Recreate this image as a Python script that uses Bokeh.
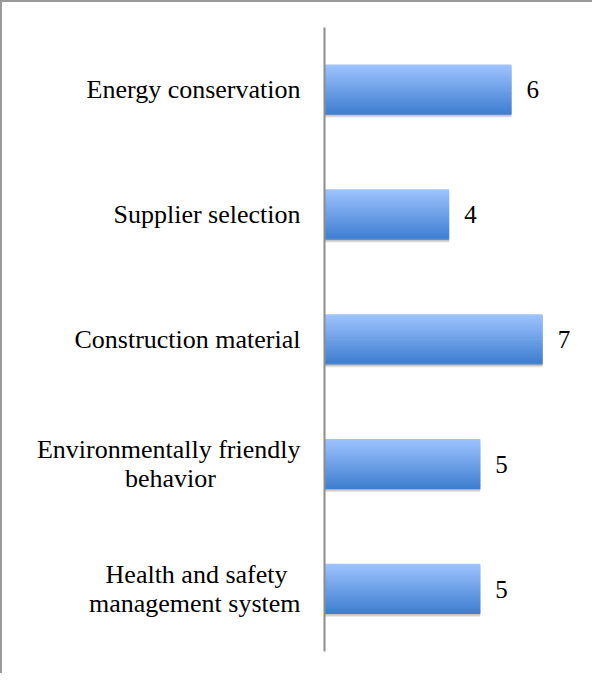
import numpy as np
from bokeh.plotting import figure
from bokeh.models import FactorRange, Range1d, ColumnDataSource
from bokeh.transform import dodge
from bokeh.embed import file_html
from bokeh.resources import INLINE
from bokeh.core.properties import value

categories = ["Energy conservation", "Supplier selection", "Construction material",
              "Environmentally friendly\nbehavior", "Health and safety\nmanagement system"]
values = [6, 4, 7, 5, 5]

FONT = "Liberation Serif"
NB = "\u00a0"
# pad the shorter line of two-line labels so each line sits centred
pad = {3: (1, 13), 4: (0, 2)}
display = []
for i, c in enumerate(categories):
    if i in pad:
        lines = c.split("\n")
        li, n = pad[i]
        lines[li] = lines[li] + NB * n
        display.append("\n".join(lines))
    else:
        display.append(c)

p = figure(width=592, height=673, output_backend="svg", toolbar_location=None,
           y_range=FactorRange(*display[::-1], range_padding=0),
           x_range=Range1d(0, 8.6),
           min_border_left=322, min_border_top=25, min_border_bottom=24, min_border_right=2,
           styles={"border-left": "2px solid #999999", "border-top": "2px solid #999999"})
p.outline_line_color = None
p.xaxis.visible = False
p.grid.visible = False
p.yaxis.axis_line_color = "#8c8c8c"
p.yaxis.axis_line_width = 2
p.yaxis.major_tick_line_color = None
p.yaxis.minor_tick_line_color = None
p.yaxis.major_label_standoff = 18
p.yaxis.major_label_text_font = FONT
p.yaxis.major_label_text_font_size = "26px"
p.yaxis.major_label_text_line_height = 1.0
p.yaxis.major_label_text_color = "#000000"

src = ColumnDataSource(dict(cat=display, val=values, lab=[str(v) for v in values]))

bar_h = 0.4
for k, a in enumerate([0.10, 0.08, 0.06]):
    p.hbar(y=dodge("cat", -0.012 - 0.006 * k, range=p.y_range), right="val", left=0,
           height=bar_h, source=src, fill_color="#000000", fill_alpha=a, line_color=None)

n = 40
top = np.array([0x9d, 0xc3, 0xff])
bot = np.array([0x3e, 0x7e, 0xd0])
sh = bar_h / n
for i in range(n):
    t = i / (n - 1)
    c = top * (1 - t) + bot * t
    col = "#%02x%02x%02x" % tuple(int(round(v)) for v in c)
    off = bar_h / 2 - sh * (i + 0.5)
    p.hbar(y=dodge("cat", off, range=p.y_range), right="val", left=0,
           height=sh * 1.6 if i < n - 1 else sh, source=src, fill_color=col, line_color=None)

p.text(x="val", y="cat", text="lab", source=src, x_offset=15,
       text_align="left", text_baseline="middle",
       text_font=value(FONT), text_font_size="25px", text_color="#000000")

open("out.html", "w").write(file_html(p, INLINE))
